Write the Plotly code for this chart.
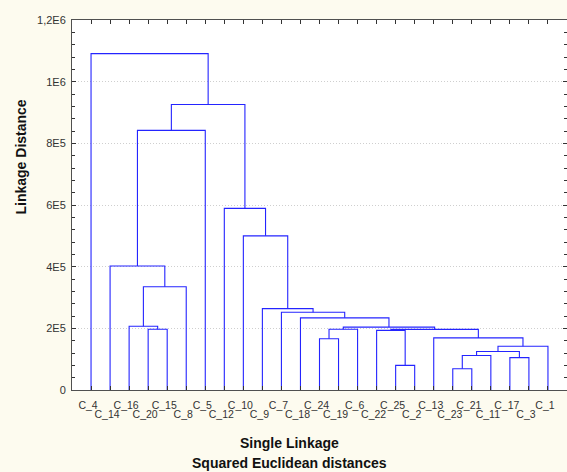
import plotly.graph_objects as go

# Leaf order along the x axis (left to right)
leaf_labels = ["C_4", "C_14", "C_16", "C_20", "C_15", "C_8", "C_5", "C_12", "C_10", "C_9",
               "C_7", "C_18", "C_24", "C_19", "C_6", "C_22", "C_25", "C_2", "C_13", "C_23",
               "C_21", "C_11", "C_17", "C_3", "C_1"]

# Merges: (left member, right member, linkage distance); new cluster ids start at 25
merge_left = ["C_23", "C_25", "C_17", 25, 28, 29, "C_24", "C_13", "C_22", 33, 31, "C_20",
              35, "C_16", "C_18", "C_7", "C_9", 38, "C_14", "C_10", "C_12", 43, 46, "C_4"]
merge_right = ["C_21", "C_2", "C_3", "C_11", 27, "C_1", "C_19", 30, 26, 32, "C_6", "C_15",
               34, 36, 37, 39, 40, "C_8", 42, 41, 44, "C_5", 45, 47]
merge_height = [69000, 80000, 105000, 112000, 125000, 142000, 166000, 169000, 193500, 196500,
                197000, 197000, 204000, 207000, 234000, 252000, 264000, 335000, 402000, 500000,
                589000, 842000, 926000, 1091000]

y_tick_vals = [0, 200000, 400000, 600000, 800000, 1000000, 1200000]
y_tick_text = ["0", "2E5", "4E5", "6E5", "8E5", "1E6", "1,2E6"]

# ---- dendrogram geometry from the linkage data ----
n = len(leaf_labels)
pos = {lab: (float(i), 0.0) for i, lab in enumerate(leaf_labels)}
xs, ys = [], []
for k, (a, b, h) in enumerate(zip(merge_left, merge_right, merge_height)):
    xa, ya = pos[a]
    xb, yb = pos[b]
    xs += [xa, xa, xb, xb, None]
    ys += [ya, h, h, yb, None]
    pos[n + k] = ((xa + xb) / 2.0, h)

LINE = "#2424ff"
AX = "#505050"
TXT = "#333333"
FONT = "Liberation Sans, Arial, sans-serif"

fig = go.Figure()
fig.add_trace(go.Scatter(x=xs, y=ys, mode="lines", line=dict(color=LINE, width=1.1),
                         hoverinfo="skip", showlegend=False))
# invisible helper trace for the second (staggered) label row
odd_idx = [i for i in range(n) if i % 2 == 1]
fig.add_trace(go.Scatter(x=odd_idx, y=[0] * len(odd_idx), xaxis="x2", mode="markers",
                         marker=dict(opacity=0), hoverinfo="skip", showlegend=False))

fig.update_layout(
    width=567, height=472,
    margin=dict(l=72, r=0, t=20, b=82),
    paper_bgcolor="#fdfbef", plot_bgcolor="#ffffff",
    font=dict(family=FONT, color=TXT),
    showlegend=False,
    xaxis=dict(range=[-1, n], tickmode="array", tickvals=list(range(n)),
               ticktext=[lab if i % 2 == 0 else "" for i, lab in enumerate(leaf_labels)],
               ticks="inside", ticklen=4, tickcolor="#333333", tickangle=0,
               showline=True, linecolor=AX, linewidth=1, mirror="ticks",
               showgrid=False, zeroline=False, tickfont=dict(size=10.5, color=TXT),
               ticklabelstandoff=5, ticklabelshift=-3),
    xaxis2=dict(range=[-1, n], overlaying="x", anchor="y", side="bottom",
                tickmode="array", tickvals=odd_idx,
                ticktext=[leaf_labels[i] for i in odd_idx], ticks="", tickangle=0,
                showline=False, showgrid=False, zeroline=False,
                tickfont=dict(size=10.5, color=TXT),
                ticklabelstandoff=16, ticklabelshift=-3),
    yaxis=dict(range=[0, 1200000], tickmode="array", tickvals=y_tick_vals,
               ticktext=y_tick_text, ticks="inside", ticklen=4, tickcolor="#333333",
               showline=True, linecolor=AX, linewidth=1, mirror="ticks",
               showgrid=True, gridcolor="#cfcfcf", griddash="1px,2px", gridwidth=1,
               zeroline=False, tickfont=dict(size=11, color=TXT),
               ticklabelstandoff=3,
               minor=dict(tickmode="linear", dtick=40000, ticks="inside", ticklen=3,
                          tickcolor="#333333", showgrid=False)),
)

fig.add_annotation(text="<b>Linkage Distance</b>", xref="paper", yref="paper",
                   x=(20.5 - 72) / 495, y=(390 - 157) / 370, textangle=-90,
                   xanchor="center", yanchor="middle", showarrow=False,
                   font=dict(size=14, color="#111111", family=FONT))
fig.add_annotation(text="<b>Single Linkage</b>", xref="paper", yref="paper",
                   x=(289 - 72) / 495, y=(390 - 443) / 370,
                   xanchor="center", yanchor="middle", showarrow=False,
                   font=dict(size=14, color="#111111", family=FONT))
fig.add_annotation(text="<b>Squared Euclidean distances</b>", xref="paper", yref="paper",
                   x=(289 - 72) / 495, y=(390 - 463) / 370,
                   xanchor="center", yanchor="middle", showarrow=False,
                   font=dict(size=14, color="#111111", family=FONT))

fig.write_html("out.html")
